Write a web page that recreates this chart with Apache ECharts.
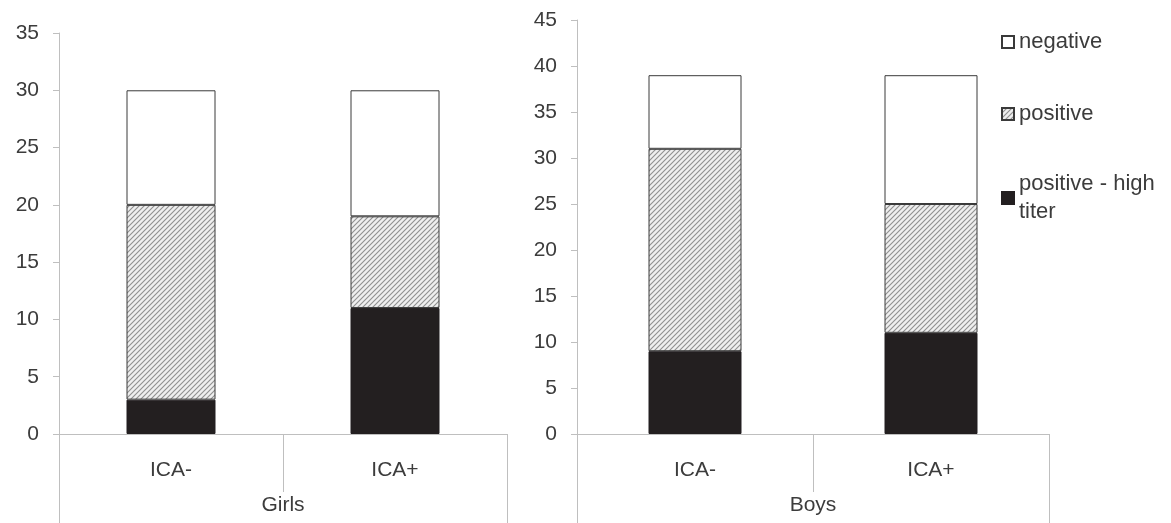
<!DOCTYPE html>
<html>
<head>
<meta charset="utf-8">
<script src="https://cdn.jsdelivr.net/npm/echarts@6/dist/echarts.min.js"></script>
<style>
    html, body { margin: 0; padding: 0; background: #fff; }
    #chart { width: 1171px; height: 523px; }
</style>
</head>
<body>
<div id="chart"></div>
<script>
// data
const groups = ['Girls', 'Boys']
const categories = ['ICA-', 'ICA+']
const highTiterGirls = [3, 11]
const positiveGirls = [17, 8]
const negativeGirls = [10, 11]
const highTiterBoys = [9, 11]
const positiveBoys = [22, 14]
const negativeBoys = [8, 14]

const textColor = '#3c3c3c'
const axisColor = '#bfbfbf'
const font = 'Liberation Sans, Arial, sans-serif'

// hatched fill for "positive"
const hatch = document.createElement('canvas')
hatch.width = 5
hatch.height = 5
const ctx = hatch.getContext('2d')
ctx.fillStyle = '#efefef'
ctx.fillRect(0, 0, 5, 5)
ctx.strokeStyle = '#8f8f8f'
ctx.lineWidth = 1.1
ctx.beginPath()
ctx.moveTo(0, 5); ctx.lineTo(5, 0)
ctx.moveTo(-2.5, 2.5); ctx.lineTo(2.5, -2.5)
ctx.moveTo(2.5, 7.5); ctx.lineTo(7.5, 2.5)
ctx.stroke()
const hatchFill = { image: hatch, repeat: 'repeat' }

const styles = {
    'positive - high titer': { color: '#231f20', borderColor: '#231f20', borderWidth: 1 },
    'positive': { color: hatchFill, borderColor: '#3a3a3a', borderWidth: 1 },
    'negative': { color: '#ffffff', borderColor: '#3a3a3a', borderWidth: 1 }
}

const makeSeries = (name, data, idx, width) => ({
    name: name,
    type: 'bar',
    stack: 'g' + idx,
    xAxisIndex: idx * 2,
    yAxisIndex: idx,
    barWidth: width,
    data: data,
    itemStyle: styles[name],
    emphasis: { disabled: true }
})

const catAxis = (grid) => ({
    type: 'category',
    gridIndex: grid,
    data: categories,
    axisLine: { show: true, lineStyle: { color: axisColor, width: 1 } },
    axisTick: { show: true, interval: 0, alignWithLabel: false, length: 58, lineStyle: { color: axisColor } },
    axisLabel: { color: textColor, fontSize: 21, fontFamily: font, margin: 26 }
})

const groupAxis = (grid, name) => ({
    type: 'category',
    gridIndex: grid,
    position: 'bottom',
    data: [name],
    axisLine: { show: false },
    axisTick: { show: true, interval: 0, alignWithLabel: false, length: 89, lineStyle: { color: axisColor } },
    axisLabel: { color: textColor, fontSize: 21, fontFamily: font, margin: 61 }
})

const valAxis = (grid, max) => ({
    type: 'value',
    gridIndex: grid,
    min: 0,
    max: max,
    interval: 5,
    splitLine: { show: false },
    axisLine: { show: true, lineStyle: { color: axisColor } },
    axisTick: { show: true, length: 6, lineStyle: { color: axisColor } },
    axisLabel: { color: textColor, fontSize: 21, fontFamily: font, margin: 20 }
})

const legendBase = {
    orient: 'vertical',
    left: 996,
    icon: 'rect',
    itemWidth: 12,
    itemHeight: 12,
    itemGap: 0,
    selectedMode: false,
    textStyle: { color: textColor, fontSize: 22, fontFamily: font, lineHeight: 28 }
}

const option = {
    animation: false,
    backgroundColor: '#fff',
    grid: [
        { left: 59, top: 33, width: 448, bottom: 89 },
        { left: 577, top: 20, width: 472, bottom: 89 }
    ],
    xAxis: [catAxis(0), groupAxis(0, groups[0]), catAxis(1), groupAxis(1, groups[1])],
    yAxis: [valAxis(0, 35), valAxis(1, 45)],
    legend: [
        Object.assign({}, legendBase, { top: 23, data: ['negative'] }),
        Object.assign({}, legendBase, { top: 95, data: ['positive'] }),
        Object.assign({}, legendBase, {
            top: 151,
            data: ['positive - high titer'],
            formatter: () => 'positive - high\ntiter',
            textStyle: Object.assign({}, legendBase.textStyle, { padding: [28, 0, 0, 0] })
        })
    ],
    series: [
        makeSeries('positive - high titer', highTiterGirls, 0, 89),
        makeSeries('positive', positiveGirls, 0, 89),
        makeSeries('negative', negativeGirls, 0, 89),
        makeSeries('positive - high titer', highTiterBoys, 1, 93),
        makeSeries('positive', positiveBoys, 1, 93),
        makeSeries('negative', negativeBoys, 1, 93)
    ]
}

const myChart = echarts.init(document.getElementById('chart'))
myChart.setOption(option)
</script>
</body>
</html>
